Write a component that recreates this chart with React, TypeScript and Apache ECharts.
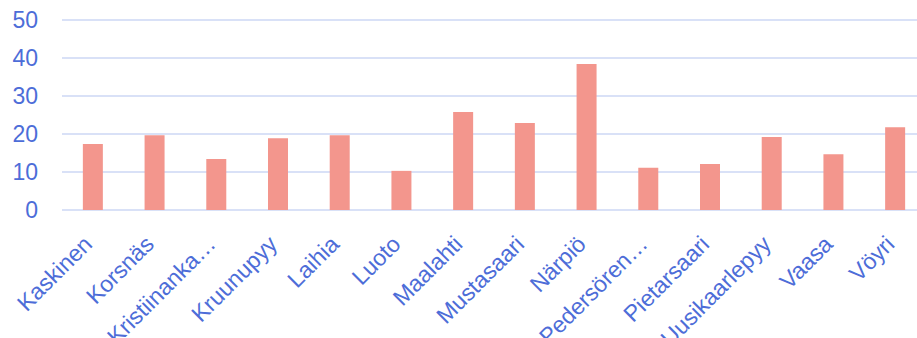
import React, { useEffect, useRef } from "react";
import * as echarts from "echarts";

const categories = [
  "Kaskinen",
  "Korsnäs",
  "Kristiinankaupunki",
  "Kruunupyy",
  "Laihia",
  "Luoto",
  "Maalahti",
  "Mustasaari",
  "Närpiö",
  "Pedersören kunta",
  "Pietarsaari",
  "Uusikaarlepyy",
  "Vaasa",
  "Vöyri",
];
const values = [17.4, 19.7, 13.4, 18.9, 19.7, 10.3, 25.8, 22.9, 38.4, 11.1, 12.1, 19.2, 14.7, 21.8];
const yTicks = [0, 10, 20, 30, 40, 50];

const LABEL = "#4d6dd8";

function shorten(name: string): string {
  if (name.length <= 13) return name;
  let s = name.slice(0, 12);
  if (s.includes(" ")) s = s.slice(0, s.lastIndexOf(" "));
  return s + "…";
}

export default function App() {
  const ref = useRef<HTMLDivElement>(null);
  useEffect(() => {
    document.body.style.margin = "0";
    const chart = echarts.init(ref.current!, null, { renderer: "svg" });
    chart.setOption({
      animation: false,
      textStyle: { fontFamily: "Liberation Sans, Arial, sans-serif" },
      grid: {
        left: 62,
        right: -9,
        top: 20,
        bottom: 128,
        containLabel: false,
        outerBoundsMode: "none",
      },
      xAxis: {
        type: "category",
        data: categories,
        axisLine: { show: false },
        axisTick: { show: false },
        axisLabel: {
          rotate: 45,
          interval: 0,
          margin: 25,
          padding: [0, 7, 0, 0],
          color: LABEL,
          fontSize: 23,
          fontFamily: "Liberation Sans, Arial, sans-serif",
          formatter: (v: string) => shorten(v),
        },
      },
      yAxis: {
        type: "value",
        min: yTicks[0],
        max: yTicks[yTicks.length - 1],
        interval: 10,
        axisLine: { show: false },
        axisTick: { show: false },
        axisLabel: {
          margin: 24,
          color: LABEL,
          fontSize: 23,
          fontFamily: "Liberation Sans, Arial, sans-serif",
        },
        splitLine: { lineStyle: { color: "#d9e1f7", width: 2 } },
      },
      series: [
        {
          type: "bar",
          data: values,
          barWidth: 20,
          itemStyle: { color: "#f3968d" },
        },
      ],
    });
    return () => chart.dispose();
  }, []);
  return <div ref={ref} style={{ width: 917, height: 338 }} />;
}
